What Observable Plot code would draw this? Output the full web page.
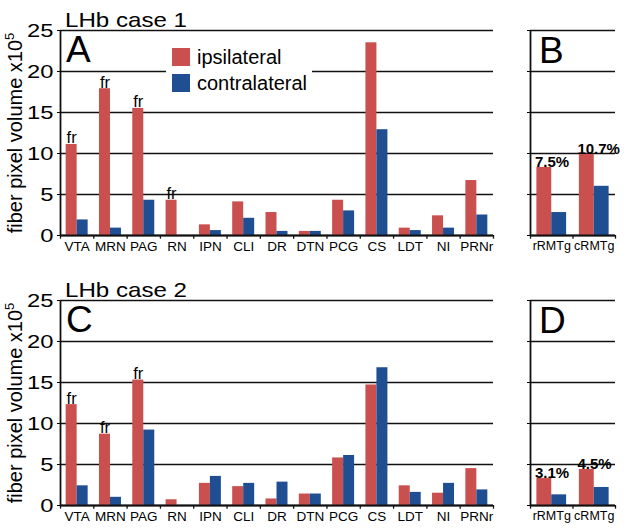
<!DOCTYPE html>
<html><head><meta charset="utf-8">
<script src="https://cdn.jsdelivr.net/npm/d3@7"></script>
<script src="https://cdn.jsdelivr.net/npm/@observablehq/plot@0.6"></script>
<style>
body{margin:0;background:#fff}
#chart{position:relative;width:629px;height:532px;background:#fff;overflow:hidden}
#chart svg{position:absolute}
</style>
</head><body><div id="chart"></div>
<script>
// ---- data ----
const regions = ["VTA","MRN","PAG","RN","IPN","CLI","DR","DTN","PCG","CS","LDT","NI","PRNr"];
const rmtg = ["rRMTg","cRMTg"];
const seriesNames = ["ipsilateral","contralateral"];
const yTicks = [0,5,10,15,20,25];

const case1Ipsi   = [11.1,17.9,15.5,4.3,1.3,4.1,2.8,0.5,4.3,23.5,0.9,2.4,6.7];
const case1Contra = [1.9,0.9,4.3,0,0.6,2.1,0.5,0.5,3.0,12.9,0.6,0.9,2.5];
const case1RmtgIpsi   = [8.3,9.9];
const case1RmtgContra = [2.8,6.0];
const case1RmtgPct    = ["7.5%","10.7%"];
const case1Fr = ["VTA","MRN","PAG","RN"];

const case2Ipsi   = [12.3,8.7,15.3,0.7,2.7,2.3,0.8,1.4,5.8,14.7,2.4,1.5,4.5];
const case2Contra = [2.4,1.0,9.2,0,3.55,2.7,2.85,1.4,6.1,16.8,1.6,2.7,1.9];
const case2RmtgIpsi   = [3.3,4.4];
const case2RmtgContra = [1.3,2.2];
const case2RmtgPct    = ["3.1%","4.5%"];
const case2Fr = ["VTA","MRN","PAG"];

const titles = ["LHb case 1","LHb case 2"];
const letters = [["A","B"],["C","D"]];
const yTitle = "fiber pixel volume x10";
const yTitleSup = "5";

// ---- style ----
const FONT = "'Liberation Sans', Arial, Helvetica, sans-serif";
const RED = "#c9504e", BLUE = "#1f4e92", INK = "#111";

function panel({cats, ipsi, contra, fr = [], pct = null, width, marginLeft, marginRight, labels, pi, xFont}) {
  const po = pi / 2;
  const range = width - marginLeft - marginRight;
  const step = range / (cats.length - pi + 2 * po);
  const bw = step * (1 - pi);
  const rows = cats.map((c, i) => ({cat: c, ipsi: ipsi[i], contra: contra[i],
    fr: fr.includes(c) ? "fr" : "", pct: pct ? pct[i] : ""}));
  const marks = [
    Plot.ruleY(yTicks, {y: d => d, stroke: INK, strokeWidth: 1.3}),
    Plot.barY(rows, {x: "cat", y: "ipsi", fill: RED, insetRight: bw / 2}),
    Plot.barY(rows, {x: "cat", y: "contra", fill: BLUE, insetLeft: bw / 2}),
    Plot.ruleX([cats[0]], {x: d => d, dx: -step / 2, y1: 0, y2: 25, stroke: INK, strokeWidth: 1.8}),
    Plot.ruleX(cats, {x: d => d, dx: -step / 2, y1: 0, y2: -0.45, stroke: INK, strokeWidth: 1.3}),
    Plot.ruleX([cats[cats.length - 1]], {x: d => d, dx: step / 2, y1: 0, y2: -0.45, stroke: INK, strokeWidth: 1.3}),
    Plot.ruleY([0], {y: d => d, stroke: INK, strokeWidth: 1.8}),
    Plot.axisY(yTicks, {anchor: "left", tickSize: 3, tickPadding: 4, fontSize: 19,
      tickFormat: labels ? (d => String(d)) : (() => "")}),
    Plot.axisX({tickSize: 0, tickPadding: 6, fontSize: xFont})
  ];
  const frRows = rows.filter(d => d.fr);
  if (frRows.length) marks.push(Plot.text(frRows, {x: "cat", y: "ipsi", text: "fr", dx: -bw / 4, dy: -1,
    lineAnchor: "bottom", fontSize: 16.5}));
  if (pct) marks.push(Plot.text(rows, {x: "cat", y: "ipsi", text: "pct", dx: -bw / 2 - 2, dy: 0,
    textAnchor: "start", lineAnchor: "bottom", fontSize: 15, fontWeight: "bold"}));
  const svg = Plot.plot({
    width, height: 260, marginLeft, marginRight, marginTop: 30, marginBottom: 25,
    x: {domain: cats, paddingInner: pi, paddingOuter: po, round: false, label: null},
    y: {domain: [0, 25], label: null},
    style: {fontFamily: FONT, background: "transparent", color: "#000", overflow: "visible"},
    marks
  });
  // widen y tick numerals like the original
  svg.querySelectorAll('g[aria-label="y-axis tick label"] text').forEach(t => {
    const tr = t.getAttribute("transform");
    if (tr) t.setAttribute("transform", tr + " scale(1.25,1)");
  });
  return svg;
}

const root = document.getElementById("chart");
function place(svg, x, y) { svg.style.left = x + "px"; svg.style.top = y + "px"; root.appendChild(svg); }

const cases = [
  {ipsi: case1Ipsi, contra: case1Contra, fr: case1Fr, rI: case1RmtgIpsi, rC: case1RmtgContra, pct: case1RmtgPct},
  {ipsi: case2Ipsi, contra: case2Contra, fr: case2Fr, rI: case2RmtgIpsi, rC: case2RmtgContra, pct: case2RmtgPct}
];
const OFF = [0, 270];
cases.forEach((c, k) => {
  place(panel({cats: regions, ipsi: c.ipsi, contra: c.contra, fr: c.fr, width: 500, marginLeft: 60, marginRight: 7, labels: true, pi: 0.34, xFont: 13.5}), 0, OFF[k]);
  place(panel({cats: rmtg, ipsi: c.rI, contra: c.rC, pct: c.pct, width: 129, marginLeft: 30, marginRight: 14, labels: false, pi: 0.3, xFont: 12.5}), 500, OFF[k]);
});

// ---- overlay texts ----
const ov = d3.select(root).append("svg").attr("width", 629).attr("height", 532)
  .style("left", "0px").style("top", "0px").style("font-family", FONT);
cases.forEach((c, k) => {
  const o = OFF[k];
  ov.append("text").attr("x", 65).attr("y", 27 + o).attr("font-size", 21)
    .attr("textLength", 122).attr("lengthAdjust", "spacingAndGlyphs").text(titles[k]);
  ov.append("text").attr("x", 66).attr("y", 62 + o).attr("font-size", 37).text(letters[k][0]);
  ov.append("text").attr("x", 539).attr("y", 63 + o).attr("font-size", 37).text(letters[k][1]);
  const yt = ov.append("text").attr("transform", `translate(22,${133 + o}) rotate(-90)`)
    .attr("text-anchor", "middle").attr("font-size", 20);
  yt.append("tspan").text(yTitle);
  yt.append("tspan").attr("font-size", 13).attr("dy", -8).text(yTitleSup);
});
// legend (top panel)
const lg = ov.append("g");
lg.append("rect").attr("x", 166).attr("y", 42).attr("width", 146).attr("height", 56).attr("fill", "#fff");
[RED, BLUE].forEach((col, i) => {
  lg.append("rect").attr("x", 172).attr("y", 48 + i * 26).attr("width", 18).attr("height", 18).attr("fill", col);
  lg.append("text").attr("x", 197).attr("y", 64 + i * 26).attr("font-size", 20).text(seriesNames[i]);
});
</script>
</body></html>
